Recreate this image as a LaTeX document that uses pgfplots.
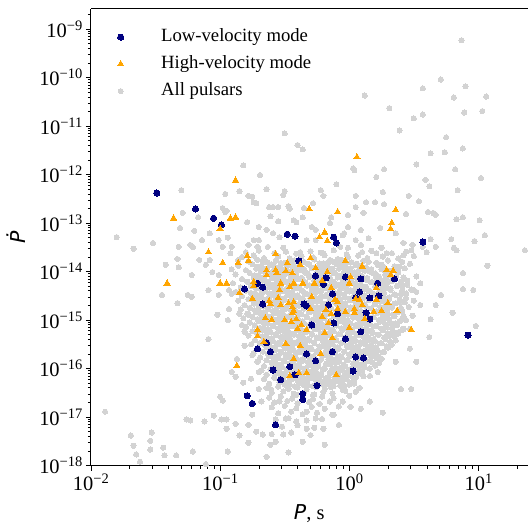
\documentclass[border=0pt]{standalone}
\usepackage{fontspec}
\setmainfont{Liberation Serif}
\newfontfamily\djv{DejaVu Sans}
\usepackage{pgfplots}
\usepackage{pgfplotstable}
\pgfplotsset{compat=1.18}
\definecolor{lowc}{RGB}{0,0,128}
\definecolor{highc}{RGB}{255,165,0}
\definecolor{allc}{RGB}{211,211,211}
\newcommand\sps[1]{\raisebox{7pt}{\fontsize{14.5}{14.5}\selectfont #1}}

% log10(P [s])  log10(Pdot)
\pgfplotstableread[row sep=\\]{
lx ly\\
-1.49 -12.38\\ -1.19 -12.71\\ -1.05 -12.90\\ -0.99 -13.04\\ -0.48 -13.23\\ -0.42 -13.27\\ -0.12 -13.29\\ -0.10 -13.41\\
0.57 -13.39\\ -0.39 -13.78\\ -0.71 -14.24\\ -0.81 -14.36\\ -0.67 -14.32\\ -0.67 -14.67\\ -0.26 -14.09\\ -0.18 -14.13\\
-0.03 -14.11\\ 0.09 -14.15\\ 0.22 -14.24\\ 0.35 -14.15\\ -0.20 -14.26\\ -0.13 -14.46\\ 0.08 -14.42\\ 0.23 -14.50\\
-0.35 -14.67\\ -0.33 -14.71\\ -0.16 -14.69\\ 0.05 -14.54\\ 0.16 -14.54\\ -0.09 -14.87\\ 0.13 -14.85\\ 0.16 -14.98\\
-0.29 -15.10\\ -0.12 -15.06\\ 0.09 -15.24\\ -0.03 -15.39\\ -0.64 -15.47\\ -0.71 -15.59\\ -0.61 -15.65\\ -0.33 -15.70\\
-0.13 -15.65\\ 0.05 -15.76\\ 0.11 -15.78\\ -0.26 -15.84\\ -0.46 -15.96\\ -0.59 -16.03\\ -0.42 -16.13\\ 0.03 -16.05\\
-0.53 -16.23\\ -0.25 -16.35\\ -0.36 -16.52\\ -0.36 -16.64\\ -0.79 -16.56\\ -0.75 -16.72\\ -0.57 -17.16\\ 0.92 -15.31\\
}\lowtab

\pgfplotstableread[row sep=\\]{
lx ly\\
-0.88 -12.12\\ -1.36 -12.90\\ -0.92 -12.90\\ -0.88 -12.88\\ -1.00 -13.12\\ -1.09 -13.60\\ -0.79 -13.68\\ 0.06 -11.64\\
-0.31 -12.71\\ -0.09 -12.77\\ 0.36 -12.73\\ 0.33 -13.00\\ 0.32 -13.12\\ -0.19 -13.19\\ -0.23 -13.29\\ -0.17 -13.37\\
-0.57 -13.64\\ -0.30 -13.72\\ -0.03 -13.78\\ -0.78 -13.78\\ -0.98 -13.82\\ -0.86 -13.82\\ -0.48 -13.82\\ -0.64 -13.97\\
-0.57 -13.97\\ -0.56 -14.03\\ -0.49 -13.99\\ -0.44 -14.03\\ -0.64 -14.07\\ -1.00 -14.24\\ -0.95 -14.24\\ -0.74 -14.21\\
-0.53 -14.24\\ -0.43 -14.24\\ 0.10 -13.89\\ -0.38 -13.86\\ -0.26 -13.93\\ -0.17 -14.01\\ 0.00 -14.24\\ 0.29 -13.97\\
0.34 -13.99\\ 0.32 -14.07\\ -0.21 -14.19\\ -0.36 -14.24\\ -1.41 -14.24\\ -0.74 -14.30\\ -0.46 -14.32\\ -0.85 -14.44\\
-0.75 -14.56\\ -0.54 -14.38\\ -0.55 -14.54\\ -0.47 -14.65\\ -0.61 -14.67\\ -0.65 -14.96\\ -0.60 -15.00\\ -0.50 -15.00\\
-0.44 -14.85\\ -0.71 -15.20\\ -0.71 -15.33\\ -0.66 -15.45\\ -0.49 -15.49\\ -0.87 -15.94\\ -0.46 -16.15\\ -0.43 -15.80\\
0.21 -14.34\\ -0.29 -14.52\\ -0.43 -14.63\\ -0.44 -14.73\\ -0.41 -14.98\\ -0.40 -15.18\\ -0.30 -14.77\\ -0.21 -14.93\\
-0.18 -14.79\\ -0.09 -14.77\\ -0.03 -14.83\\ 0.04 -14.85\\ 0.08 -14.58\\ 0.10 -14.69\\ 0.19 -14.83\\ 0.25 -14.81\\
0.30 -14.65\\ 0.37 -14.81\\ 0.48 -15.20\\ -0.16 -15.06\\ 0.00 -15.16\\ 0.12 -14.98\\ -0.37 -15.10\\ -0.38 -15.53\\
-0.13 -15.37\\ -0.09 -14.63\\ -0.14 -14.34\\ -0.11 -14.58\\ 0.05 -14.56\\ 0.21 -14.58\\ -0.33 -15.20\\ -0.10 -16.13\\
0.01 -14.11\\ -0.19 -15.26\\ -0.27 -14.24\\ -0.62 -14.61\\ -0.53 -14.69\\ -0.14 -14.87\\ 0.04 -14.77\\ -0.43 -14.81\\
-0.45 -15.04\\ -0.22 -15.70\\ -0.39 -16.09\\ -0.33 -16.09\\
}\hightab

\pgfplotstableread[row sep=\\]{
lx ly\\
0.87 -9.23\\ 0.71 -10.04\\ 0.57 -10.22\\ 0.90 -10.18\\ 0.81 -10.41\\ 1.06 -10.39\\ 0.12 -10.37\\ 0.31 -10.63\\
0.50 -10.84\\ 0.57 -10.76\\ 0.89 -10.72\\ 1.03 -10.69\\ 0.39 -11.09\\ -0.50 -11.15\\ 0.75 -11.23\\ -0.40 -11.39\\
-0.36 -11.48\\ 0.88 -11.46\\ 0.63 -11.56\\ 0.74 -11.54\\ 0.52 -11.79\\ 0.03 -11.87\\ 0.04 -11.91\\ 0.27 -11.89\\
0.82 -11.89\\ 1.02 -12.07\\ 0.21 -12.05\\ 0.59 -12.11\\ 0.62 -12.24\\ -0.10 -12.20\\ -0.64 -12.30\\ -0.50 -12.34\\
-0.51 -12.42\\ -0.22 -12.32\\ -0.20 -12.44\\ 0.05 -12.44\\ 0.26 -12.36\\ 0.46 -12.44\\ 0.84 -12.32\\ 0.54 -12.55\\
0.13 -12.57\\ 0.20 -12.57\\ 0.27 -12.61\\ -0.28 -12.59\\ -0.62 -12.67\\ -0.59 -12.67\\ -0.55 -12.67\\ 0.05 -12.67\\
-0.35 -12.69\\ -0.01 -12.83\\ 0.11 -12.79\\ 0.44 -12.81\\ 0.61 -12.77\\ 0.65 -12.79\\ 0.67 -12.83\\ 0.88 -12.88\\
0.83 -12.92\\ 1.01 -12.94\\ 1.05 -13.25\\ 0.79 -13.33\\ 0.97 -13.37\\ 0.63 -13.33\\ 0.49 -13.45\\ 0.57 -13.49\\
0.67 -13.49\\ 0.81 -13.51\\ 0.83 -13.56\\ 0.48 -13.56\\ 0.60 -13.60\\ 1.36 -13.56\\ 0.09 -13.45\\ -0.01 -13.08\\
0.09 -13.14\\ -0.05 -13.25\\ 0.24 -13.10\\ 0.15 -13.31\\ 0.05 -13.35\\ -0.01 -13.51\\ 0.36 -13.21\\ 0.42 -13.41\\
0.29 -13.62\\ 0.25 -13.51\\ 0.21 -13.62\\ 0.42 -13.66\\ -0.61 -12.86\\ -0.55 -12.96\\ -0.43 -12.94\\ -0.41 -12.98\\
-0.36 -12.88\\ -0.29 -13.08\\ -0.26 -13.14\\ -0.15 -13.00\\ -0.14 -12.88\\ -0.04 -13.21\\ -0.64 -13.14\\ -0.59 -13.21\\
-0.54 -13.29\\ -0.33 -13.35\\ -0.26 -13.35\\ -0.20 -13.62\\ -0.07 -13.49\\ -0.63 -13.49\\ -0.51 -13.51\\ -0.38 -13.60\\
-0.45 -13.76\\ -0.15 -13.76\\ -0.05 -13.82\\
-0.82 -11.81\\ -1.30 -12.32\\ -1.80 -13.29\\ -1.67 -13.53\\ -1.52 -13.41\\ -1.29 -12.79\\ -1.17 -12.88\\ -1.31 -13.10\\
-1.20 -13.16\\ -1.32 -13.49\\ -1.21 -13.49\\ -1.14 -13.35\\ -0.96 -12.40\\ -0.95 -12.75\\ -1.01 -13.35\\ -0.94 -13.30\\
-0.98 -13.49\\ -0.91 -13.49\\ -1.08 -13.21\\ -1.08 -13.76\\ -0.92 -13.62\\ -0.86 -13.76\\ -0.75 -12.46\\ -0.72 -12.59\\
-0.74 -13.35\\ -0.78 -13.45\\ -0.70 -13.35\\ -0.79 -12.98\\ -0.70 -13.08\\ -0.71 -13.49\\ -1.33 -13.74\\ -1.16 -13.76\\
-1.23 -13.45\\ -0.69 -12.01\\ -0.85 -12.34\\ -0.78 -12.44\\ -0.74 -12.57\\ -0.47 -12.65\\ -0.46 -12.70\\ -0.98 -12.69\\
-0.96 -12.77\\
-1.89 -16.89\\ -1.69 -17.38\\ -1.67 -17.59\\ -1.65 -17.77\\ -1.62 -17.92\\ -1.54 -17.67\\ -1.54 -17.49\\ -1.53 -17.32\\
-1.44 -17.63\\ -1.43 -17.79\\ -1.34 -17.79\\ -1.26 -17.05\\ -1.23 -17.07\\ -1.21 -17.71\\ -1.12 -17.09\\ -1.11 -17.97\\
-1.05 -16.97\\ -1.00 -16.58\\ -0.98 -16.66\\ -0.95 -17.05\\ -0.95 -17.24\\ -0.94 -17.71\\ -0.88 -17.14\\ -0.85 -17.38\\
-0.78 -17.16\\ -0.78 -17.53\\ -0.72 -17.30\\ -0.67 -17.36\\
-1.45 -14.48\\ -1.33 -14.65\\ -1.25 -14.48\\ -1.22 -14.52\\ -1.09 -14.38\\ -1.02 -14.89\\ -1.09 -15.39\\ -1.01 -14.48\\
-0.93 -14.38\\ -0.93 -14.77\\ -0.91 -14.46\\ -0.94 -15.00\\ -0.85 -14.87\\ -0.83 -15.10\\ -0.81 -15.24\\ -0.78 -14.89\\
-0.81 -15.53\\ -0.75 -15.72\\ -0.76 -16.21\\ -0.70 -16.07\\ -0.91 -16.07\\ -0.88 -16.17\\ -0.70 -16.42\\ -0.68 -16.68\\
-0.75 -16.95\\ -0.91 -13.95\\ -1.06 -14.01\\ -1.22 -14.07\\ -1.42 -13.86\\ -1.11 -13.86\\ -1.01 -14.07\\ -1.32 -13.91\\
-0.87 -15.80\\ -0.82 -16.29\\ -0.99 -17.05\\
1.07 -13.88\\ 0.88 -14.03\\ 0.96 -14.38\\ 0.80 -14.85\\ 0.98 -15.12\\ 0.62 -15.35\\ 0.52 -15.86\\ 0.40 -16.42\\
0.48 -16.42\\ 0.26 -16.91\\ 0.09 -16.83\\ 0.01 -16.79\\ -0.08 -17.16\\ -0.19 -17.57\\ -0.33 -17.24\\ -0.47 -17.73\\
-0.61 -17.57\\ -0.57 -17.51\\ -0.64 -17.82\\ -0.41 -17.09\\ -0.26 -17.03\\ -0.12 -16.95\\ 0.16 -16.68\\ -0.05 -16.68\\
0.05 -16.48\\ 0.22 -16.07\\ 0.36 -15.86\\ 0.47 -15.59\\ 0.63 -14.98\\ 0.67 -14.69\\ 0.71 -14.48\\ 0.88 -14.36\\
0.55 -14.69\\ 0.50 -14.38\\ 0.42 -15.18\\ 0.32 -15.51\\ 0.21 -15.65\\ 0.13 -15.86\\ -0.02 -16.07\\ -0.15 -16.27\\
-0.28 -16.54\\ -0.41 -16.54\\ -0.54 -16.68\\ -0.61 -16.42\\ -0.49 -17.03\\ -0.33 -16.89\\ -0.20 -17.24\\ -0.51 -17.36\\
-0.36 -17.51\\
-0.80 -13.60\\ -0.70 -13.57\\ -0.58 -13.62\\ -0.49 -13.59\\ -0.41 -13.63\\ -0.30 -13.58\\ -0.22 -13.61\\ -0.12 -13.56\\ -0.02 -13.64\\ 0.10 -13.60\\ 0.17 -13.57\\ 0.33 -13.62\\ 0.44 -13.59\\
-0.83 -13.70\\ -0.74 -13.67\\ -0.66 -13.72\\ -0.55 -13.69\\ -0.46 -13.73\\ -0.37 -13.68\\ -0.28 -13.71\\ -0.19 -13.66\\ -0.09 -13.74\\ -0.01 -13.70\\ 0.07 -13.67\\ 0.14 -13.72\\ 0.26 -13.69\\ 0.38 -13.73\\ 0.50 -13.68\\
-0.78 -13.79\\ -0.71 -13.76\\ -0.63 -13.81\\ -0.57 -13.78\\ -0.50 -13.82\\ -0.42 -13.77\\ -0.35 -13.80\\ -0.27 -13.75\\ -0.20 -13.83\\ -0.13 -13.79\\ -0.06 -13.76\\ 0.02 -13.81\\ 0.11 -13.78\\ 0.21 -13.82\\ 0.30 -13.77\\ 0.41 -13.80\\
-0.86 -13.88\\ -0.75 -13.85\\ -0.68 -13.90\\ -0.61 -13.87\\ -0.53 -13.91\\ -0.47 -13.86\\ -0.39 -13.89\\ -0.32 -13.84\\ -0.24 -13.92\\ -0.17 -13.88\\ -0.10 -13.85\\ -0.03 -13.90\\ 0.05 -13.87\\ 0.13 -13.91\\ 0.22 -13.86\\ 0.35 -13.89\\ 0.47 -13.84\\
-0.80 -13.97\\ -0.72 -13.94\\ -0.65 -13.99\\ -0.58 -13.96\\ -0.52 -14.00\\ -0.44 -13.95\\ -0.36 -13.98\\ -0.29 -13.93\\ -0.22 -14.01\\ -0.15 -13.97\\ -0.08 -13.94\\ 0.00 -13.99\\ 0.08 -13.96\\ 0.16 -14.00\\ 0.25 -13.95\\ 0.31 -13.98\\ 0.43 -13.93\\
-0.88 -14.06\\ -0.77 -14.03\\ -0.70 -14.08\\ -0.62 -14.05\\ -0.55 -14.09\\ -0.49 -14.04\\ -0.41 -14.07\\ -0.34 -14.02\\ -0.27 -14.10\\ -0.19 -14.06\\ -0.12 -14.03\\ -0.05 -14.08\\ 0.03 -14.05\\ 0.10 -14.09\\ 0.19 -14.04\\ 0.28 -14.07\\ 0.38 -14.02\\ 0.52 -14.10\\
-0.83 -14.15\\ -0.74 -14.12\\ -0.67 -14.17\\ -0.60 -14.14\\ -0.53 -14.18\\ -0.45 -14.13\\ -0.38 -14.16\\ -0.31 -14.11\\ -0.24 -14.19\\ -0.16 -14.15\\ -0.09 -14.12\\ -0.02 -14.17\\ 0.06 -14.14\\ 0.14 -14.18\\ 0.21 -14.13\\ 0.29 -14.16\\ 0.36 -14.11\\ 0.45 -14.19\\
-0.90 -14.24\\ -0.79 -14.21\\ -0.71 -14.26\\ -0.64 -14.23\\ -0.57 -14.27\\ -0.50 -14.22\\ -0.43 -14.25\\ -0.35 -14.20\\ -0.28 -14.28\\ -0.21 -14.24\\ -0.14 -14.21\\ -0.06 -14.26\\ 0.01 -14.23\\ 0.09 -14.27\\ 0.17 -14.22\\ 0.25 -14.25\\ 0.33 -14.20\\ 0.41 -14.28\\ 0.55 -14.24\\
-0.84 -14.33\\ -0.76 -14.30\\ -0.69 -14.35\\ -0.62 -14.32\\ -0.54 -14.36\\ -0.47 -14.31\\ -0.40 -14.34\\ -0.33 -14.29\\ -0.25 -14.37\\ -0.18 -14.33\\ -0.11 -14.30\\ -0.03 -14.35\\ 0.05 -14.32\\ 0.12 -14.36\\ 0.20 -14.31\\ 0.28 -14.34\\ 0.37 -14.29\\ 0.48 -14.37\\
-0.88 -14.42\\ -0.80 -14.39\\ -0.73 -14.44\\ -0.66 -14.41\\ -0.59 -14.45\\ -0.51 -14.40\\ -0.44 -14.43\\ -0.37 -14.38\\ -0.30 -14.46\\ -0.22 -14.42\\ -0.15 -14.39\\ -0.08 -14.44\\ 0.00 -14.41\\ 0.08 -14.45\\ 0.15 -14.40\\ 0.23 -14.43\\ 0.32 -14.38\\ 0.40 -14.46\\ 0.52 -14.42\\
-0.83 -14.51\\ -0.75 -14.48\\ -0.68 -14.53\\ -0.61 -14.50\\ -0.55 -14.54\\ -0.48 -14.49\\ -0.41 -14.52\\ -0.34 -14.47\\ -0.26 -14.55\\ -0.19 -14.51\\ -0.12 -14.48\\ -0.04 -14.53\\ 0.04 -14.50\\ 0.11 -14.54\\ 0.19 -14.49\\ 0.27 -14.52\\ 0.35 -14.47\\ 0.44 -14.55\\
-0.86 -14.60\\ -0.78 -14.57\\ -0.71 -14.62\\ -0.64 -14.59\\ -0.57 -14.63\\ -0.50 -14.58\\ -0.43 -14.61\\ -0.36 -14.56\\ -0.29 -14.64\\ -0.23 -14.60\\ -0.15 -14.57\\ -0.07 -14.62\\ 0.01 -14.59\\ 0.08 -14.63\\ 0.16 -14.58\\ 0.24 -14.61\\ 0.31 -14.56\\ 0.39 -14.64\\ 0.50 -14.60\\
-0.81 -14.69\\ -0.74 -14.66\\ -0.67 -14.71\\ -0.60 -14.68\\ -0.53 -14.72\\ -0.46 -14.67\\ -0.39 -14.70\\ -0.32 -14.65\\ -0.25 -14.73\\ -0.18 -14.69\\ -0.10 -14.66\\ -0.03 -14.71\\ 0.05 -14.68\\ 0.13 -14.72\\ 0.20 -14.67\\ 0.28 -14.70\\ 0.36 -14.65\\ 0.46 -14.73\\
-0.84 -14.78\\ -0.77 -14.75\\ -0.70 -14.80\\ -0.63 -14.77\\ -0.56 -14.81\\ -0.49 -14.76\\ -0.42 -14.79\\ -0.35 -14.74\\ -0.28 -14.82\\ -0.21 -14.78\\ -0.14 -14.75\\ -0.06 -14.80\\ 0.02 -14.77\\ 0.09 -14.81\\ 0.17 -14.76\\ 0.25 -14.79\\ 0.33 -14.74\\ 0.41 -14.82\\
-0.79 -14.87\\ -0.72 -14.84\\ -0.65 -14.89\\ -0.58 -14.86\\ -0.51 -14.90\\ -0.44 -14.85\\ -0.37 -14.88\\ -0.30 -14.83\\ -0.23 -14.91\\ -0.16 -14.87\\ -0.09 -14.84\\ -0.01 -14.89\\ 0.06 -14.86\\ 0.14 -14.90\\ 0.22 -14.85\\ 0.30 -14.88\\ 0.38 -14.83\\ 0.49 -14.91\\
-0.82 -14.96\\ -0.75 -14.93\\ -0.68 -14.98\\ -0.61 -14.95\\ -0.54 -14.99\\ -0.47 -14.94\\ -0.40 -14.97\\ -0.33 -14.92\\ -0.26 -15.00\\ -0.19 -14.96\\ -0.12 -14.93\\ -0.04 -14.98\\ 0.03 -14.95\\ 0.11 -14.99\\ 0.19 -14.94\\ 0.27 -14.97\\ 0.35 -14.92\\ 0.44 -15.00\\
-0.77 -15.05\\ -0.70 -15.02\\ -0.63 -15.07\\ -0.56 -15.04\\ -0.49 -15.08\\ -0.42 -15.03\\ -0.35 -15.06\\ -0.28 -15.01\\ -0.21 -15.09\\ -0.14 -15.05\\ -0.07 -15.02\\ 0.01 -15.07\\ 0.08 -15.04\\ 0.16 -15.08\\ 0.24 -15.03\\ 0.32 -15.06\\ 0.40 -15.01\\
-0.80 -15.14\\ -0.73 -15.11\\ -0.66 -15.16\\ -0.59 -15.13\\ -0.52 -15.17\\ -0.45 -15.12\\ -0.38 -15.15\\ -0.31 -15.10\\ -0.24 -15.18\\ -0.17 -15.14\\ -0.10 -15.11\\ -0.02 -15.16\\ 0.05 -15.13\\ 0.13 -15.17\\ 0.21 -15.12\\ 0.29 -15.15\\ 0.37 -15.10\\ 0.47 -15.18\\
-0.75 -15.23\\ -0.68 -15.20\\ -0.61 -15.25\\ -0.54 -15.22\\ -0.47 -15.26\\ -0.40 -15.21\\ -0.33 -15.24\\ -0.26 -15.19\\ -0.19 -15.27\\ -0.12 -15.23\\ -0.05 -15.20\\ 0.03 -15.25\\ 0.10 -15.22\\ 0.18 -15.26\\ 0.26 -15.21\\ 0.34 -15.24\\ 0.42 -15.19\\
-0.78 -15.32\\ -0.71 -15.29\\ -0.64 -15.34\\ -0.57 -15.31\\ -0.50 -15.35\\ -0.43 -15.30\\ -0.36 -15.33\\ -0.29 -15.28\\ -0.22 -15.36\\ -0.15 -15.32\\ -0.07 -15.29\\ 0.00 -15.34\\ 0.07 -15.31\\ 0.15 -15.35\\ 0.23 -15.30\\ 0.31 -15.33\\ 0.38 -15.28\\
-0.73 -15.41\\ -0.66 -15.38\\ -0.59 -15.43\\ -0.52 -15.40\\ -0.45 -15.44\\ -0.38 -15.39\\ -0.31 -15.42\\ -0.24 -15.37\\ -0.17 -15.45\\ -0.10 -15.41\\ -0.03 -15.38\\ 0.05 -15.43\\ 0.12 -15.40\\ 0.20 -15.44\\ 0.28 -15.39\\ 0.36 -15.42\\
-0.76 -15.50\\ -0.69 -15.47\\ -0.62 -15.52\\ -0.55 -15.49\\ -0.48 -15.53\\ -0.41 -15.48\\ -0.34 -15.51\\ -0.27 -15.46\\ -0.20 -15.54\\ -0.13 -15.50\\ -0.06 -15.47\\ 0.02 -15.52\\ 0.09 -15.49\\ 0.17 -15.53\\ 0.25 -15.48\\ 0.33 -15.51\\
-0.71 -15.59\\ -0.64 -15.56\\ -0.57 -15.61\\ -0.50 -15.58\\ -0.43 -15.62\\ -0.36 -15.57\\ -0.29 -15.60\\ -0.22 -15.55\\ -0.15 -15.63\\ -0.08 -15.59\\ -0.01 -15.56\\ 0.07 -15.61\\ 0.14 -15.58\\ 0.22 -15.62\\ 0.30 -15.57\\
-0.74 -15.68\\ -0.67 -15.65\\ -0.60 -15.70\\ -0.53 -15.67\\ -0.46 -15.71\\ -0.39 -15.66\\ -0.32 -15.69\\ -0.25 -15.64\\ -0.18 -15.72\\ -0.11 -15.68\\ -0.04 -15.65\\ 0.04 -15.70\\ 0.11 -15.67\\ 0.19 -15.71\\ 0.27 -15.66\\
-0.69 -15.77\\ -0.62 -15.74\\ -0.55 -15.79\\ -0.48 -15.76\\ -0.41 -15.80\\ -0.34 -15.75\\ -0.27 -15.78\\ -0.20 -15.73\\ -0.13 -15.81\\ -0.06 -15.77\\ 0.01 -15.74\\ 0.09 -15.79\\ 0.17 -15.76\\ 0.25 -15.80\\
-0.71 -15.86\\ -0.64 -15.83\\ -0.57 -15.88\\ -0.50 -15.85\\ -0.43 -15.89\\ -0.36 -15.84\\ -0.29 -15.87\\ -0.22 -15.82\\ -0.15 -15.90\\ -0.08 -15.86\\ -0.01 -15.83\\ 0.06 -15.88\\ 0.14 -15.85\\ 0.23 -15.89\\
-0.66 -15.95\\ -0.59 -15.92\\ -0.52 -15.97\\ -0.45 -15.94\\ -0.38 -15.98\\ -0.31 -15.93\\ -0.24 -15.96\\ -0.17 -15.91\\ -0.10 -15.99\\ -0.03 -15.95\\ 0.04 -15.92\\ 0.12 -15.97\\ 0.20 -15.94\\
-0.68 -16.04\\ -0.61 -16.01\\ -0.54 -16.06\\ -0.47 -16.03\\ -0.40 -16.07\\ -0.33 -16.02\\ -0.26 -16.05\\ -0.19 -16.00\\ -0.12 -16.08\\ -0.05 -16.04\\ 0.02 -16.01\\ 0.10 -16.06\\
-0.64 -16.13\\ -0.57 -16.10\\ -0.50 -16.15\\ -0.43 -16.12\\ -0.36 -16.16\\ -0.29 -16.11\\ -0.22 -16.14\\ -0.15 -16.09\\ -0.08 -16.17\\ -0.01 -16.13\\ 0.07 -16.10\\ 0.16 -16.15\\
-0.66 -16.22\\ -0.58 -16.19\\ -0.51 -16.24\\ -0.44 -16.21\\ -0.37 -16.25\\ -0.30 -16.20\\ -0.23 -16.23\\ -0.16 -16.18\\ -0.09 -16.26\\ -0.02 -16.22\\ 0.05 -16.19\\
-0.62 -16.31\\ -0.54 -16.28\\ -0.46 -16.33\\ -0.39 -16.30\\ -0.32 -16.34\\ -0.25 -16.29\\ -0.18 -16.32\\ -0.11 -16.27\\ -0.04 -16.35\\ 0.04 -16.31\\
-0.64 -16.40\\ -0.55 -16.37\\ -0.47 -16.42\\ -0.40 -16.39\\ -0.33 -16.43\\ -0.26 -16.38\\ -0.19 -16.41\\ -0.12 -16.36\\ -0.05 -16.44\\ 0.08 -16.40\\
-0.60 -16.50\\ -0.51 -16.47\\ -0.43 -16.52\\ -0.35 -16.49\\ -0.27 -16.53\\ -0.20 -16.48\\ -0.13 -16.51\\ -0.03 -16.46\\
-0.62 -16.60\\ -0.53 -16.57\\ -0.44 -16.62\\ -0.36 -16.59\\ -0.28 -16.63\\ -0.21 -16.58\\ -0.12 -16.61\\ 0.00 -16.56\\
-0.58 -16.70\\ -0.48 -16.67\\ -0.40 -16.72\\ -0.31 -16.69\\ -0.23 -16.73\\ -0.15 -16.68\\
-0.60 -16.80\\ -0.50 -16.77\\ -0.41 -16.82\\ -0.29 -16.79\\ -0.19 -16.83\\ -0.08 -16.78\\
-0.55 -16.92\\ -0.45 -16.89\\ -0.36 -16.94\\ -0.25 -16.91\\ -0.13 -16.95\\
-0.57 -17.05\\ -0.47 -17.02\\ -0.33 -17.07\\ -0.21 -17.04\\
-0.52 -17.20\\ -0.40 -17.17\\ -0.27 -17.22\\
-0.60 -17.35\\ -0.45 -17.32\\ -0.30 -17.37\\
-0.67 -13.81\\ -0.60 -13.85\\ -0.53 -13.82\\ -0.46 -13.84\\ -0.38 -13.80\\ -0.31 -13.86\\ -0.23 -13.83\\ -0.16 -13.81\\ -0.09 -13.85\\ -0.02 -13.82\\ 0.06 -13.84\\ 0.15 -13.80\\ 0.25 -13.86\\
-0.71 -13.90\\ -0.64 -13.94\\ -0.57 -13.91\\ -0.49 -13.93\\ -0.43 -13.89\\ -0.35 -13.95\\ -0.28 -13.92\\ -0.20 -13.90\\ -0.13 -13.94\\ -0.06 -13.91\\ 0.01 -13.93\\ 0.09 -13.89\\ 0.17 -13.95\\ 0.27 -13.92\\ 0.39 -13.90\\
-0.68 -13.99\\ -0.61 -14.03\\ -0.54 -14.00\\ -0.48 -14.02\\ -0.40 -13.98\\ -0.32 -14.04\\ -0.25 -14.01\\ -0.18 -13.99\\ -0.11 -14.03\\ -0.04 -14.00\\ 0.04 -14.02\\ 0.12 -13.98\\ 0.20 -14.04\\ 0.28 -14.01\\ 0.37 -13.99\\
-0.73 -14.08\\ -0.66 -14.12\\ -0.58 -14.09\\ -0.51 -14.11\\ -0.45 -14.07\\ -0.37 -14.13\\ -0.30 -14.10\\ -0.23 -14.08\\ -0.15 -14.12\\ -0.08 -14.09\\ -0.01 -14.11\\ 0.07 -14.07\\ 0.14 -14.13\\ 0.23 -14.10\\ 0.32 -14.08\\ 0.42 -14.12\\
-0.70 -14.17\\ -0.63 -14.21\\ -0.56 -14.18\\ -0.49 -14.20\\ -0.41 -14.16\\ -0.34 -14.22\\ -0.27 -14.19\\ -0.20 -14.17\\ -0.12 -14.21\\ -0.05 -14.18\\ 0.02 -14.20\\ 0.10 -14.16\\ 0.18 -14.22\\ 0.25 -14.19\\ 0.33 -14.17\\ 0.40 -14.21\\
-0.75 -14.26\\ -0.67 -14.30\\ -0.60 -14.27\\ -0.53 -14.29\\ -0.46 -14.25\\ -0.39 -14.31\\ -0.31 -14.28\\ -0.24 -14.26\\ -0.17 -14.30\\ -0.10 -14.27\\ -0.02 -14.29\\ 0.05 -14.25\\ 0.13 -14.31\\ 0.21 -14.28\\ 0.29 -14.26\\ 0.37 -14.30\\ 0.45 -14.27\\
-0.72 -14.35\\ -0.65 -14.39\\ -0.58 -14.36\\ -0.50 -14.38\\ -0.43 -14.34\\ -0.36 -14.40\\ -0.29 -14.37\\ -0.21 -14.35\\ -0.14 -14.39\\ -0.07 -14.36\\ 0.01 -14.38\\ 0.09 -14.34\\ 0.16 -14.40\\ 0.24 -14.37\\ 0.32 -14.35\\ 0.41 -14.39\\
-0.76 -14.44\\ -0.69 -14.48\\ -0.62 -14.45\\ -0.55 -14.47\\ -0.47 -14.43\\ -0.40 -14.49\\ -0.33 -14.46\\ -0.26 -14.44\\ -0.18 -14.48\\ -0.11 -14.45\\ -0.04 -14.47\\ 0.04 -14.43\\ 0.12 -14.49\\ 0.19 -14.46\\ 0.27 -14.44\\ 0.36 -14.48\\ 0.44 -14.45\\
-0.71 -14.53\\ -0.64 -14.57\\ -0.57 -14.54\\ -0.51 -14.56\\ -0.44 -14.52\\ -0.37 -14.58\\ -0.30 -14.55\\ -0.22 -14.53\\ -0.15 -14.57\\ -0.08 -14.54\\ 0.00 -14.56\\ 0.08 -14.52\\ 0.15 -14.58\\ 0.23 -14.55\\ 0.31 -14.53\\ 0.39 -14.57\\
-0.74 -14.62\\ -0.67 -14.66\\ -0.60 -14.63\\ -0.53 -14.65\\ -0.46 -14.61\\ -0.39 -14.67\\ -0.32 -14.64\\ -0.25 -14.62\\ -0.19 -14.66\\ -0.11 -14.63\\ -0.03 -14.65\\ 0.05 -14.61\\ 0.12 -14.67\\ 0.20 -14.64\\ 0.28 -14.62\\ 0.35 -14.66\\ 0.43 -14.63\\
-0.70 -14.71\\ -0.63 -14.75\\ -0.56 -14.72\\ -0.49 -14.74\\ -0.42 -14.70\\ -0.35 -14.76\\ -0.28 -14.73\\ -0.21 -14.71\\ -0.14 -14.75\\ -0.06 -14.72\\ 0.01 -14.74\\ 0.09 -14.70\\ 0.17 -14.76\\ 0.24 -14.73\\ 0.32 -14.71\\ 0.40 -14.75\\
-0.73 -14.80\\ -0.66 -14.84\\ -0.59 -14.81\\ -0.52 -14.83\\ -0.45 -14.79\\ -0.38 -14.85\\ -0.31 -14.82\\ -0.24 -14.80\\ -0.17 -14.84\\ -0.10 -14.81\\ -0.02 -14.83\\ 0.06 -14.79\\ 0.13 -14.85\\ 0.21 -14.82\\ 0.29 -14.80\\ 0.37 -14.84\\
-0.68 -14.89\\ -0.61 -14.93\\ -0.54 -14.90\\ -0.47 -14.92\\ -0.40 -14.88\\ -0.33 -14.94\\ -0.26 -14.91\\ -0.19 -14.89\\ -0.12 -14.93\\ -0.05 -14.90\\ 0.03 -14.92\\ 0.10 -14.88\\ 0.18 -14.94\\ 0.26 -14.91\\ 0.34 -14.89\\ 0.42 -14.93\\
-0.71 -14.98\\ -0.64 -15.02\\ -0.57 -14.99\\ -0.50 -15.01\\ -0.43 -14.97\\ -0.36 -15.03\\ -0.29 -15.00\\ -0.22 -14.98\\ -0.15 -15.02\\ -0.08 -14.99\\ -0.01 -15.01\\ 0.07 -14.97\\ 0.15 -15.03\\ 0.23 -15.00\\ 0.31 -14.98\\ 0.39 -15.02\\
-0.66 -15.07\\ -0.59 -15.11\\ -0.52 -15.08\\ -0.45 -15.10\\ -0.38 -15.06\\ -0.31 -15.12\\ -0.24 -15.09\\ -0.17 -15.07\\ -0.10 -15.11\\ -0.03 -15.08\\ 0.05 -15.10\\ 0.12 -15.06\\ 0.20 -15.12\\ 0.28 -15.09\\ 0.36 -15.07\\
-0.69 -15.16\\ -0.62 -15.20\\ -0.55 -15.17\\ -0.48 -15.19\\ -0.41 -15.15\\ -0.34 -15.21\\ -0.27 -15.18\\ -0.20 -15.16\\ -0.13 -15.20\\ -0.06 -15.17\\ 0.02 -15.19\\ 0.09 -15.15\\ 0.17 -15.21\\ 0.25 -15.18\\ 0.33 -15.16\\ 0.41 -15.20\\
-0.64 -15.25\\ -0.57 -15.29\\ -0.50 -15.26\\ -0.43 -15.28\\ -0.36 -15.24\\ -0.29 -15.30\\ -0.22 -15.27\\ -0.15 -15.25\\ -0.08 -15.29\\ -0.01 -15.26\\ 0.07 -15.28\\ 0.14 -15.24\\ 0.22 -15.30\\ 0.30 -15.27\\ 0.38 -15.25\\
-0.67 -15.34\\ -0.60 -15.38\\ -0.53 -15.35\\ -0.46 -15.37\\ -0.39 -15.33\\ -0.32 -15.39\\ -0.25 -15.36\\ -0.18 -15.34\\ -0.11 -15.38\\ -0.03 -15.35\\ 0.04 -15.37\\ 0.11 -15.33\\ 0.19 -15.39\\ 0.27 -15.36\\ 0.35 -15.34\\
-0.62 -15.43\\ -0.55 -15.47\\ -0.48 -15.44\\ -0.41 -15.46\\ -0.34 -15.42\\ -0.27 -15.48\\ -0.20 -15.45\\ -0.13 -15.43\\ -0.06 -15.47\\ 0.01 -15.44\\ 0.09 -15.46\\ 0.16 -15.42\\ 0.24 -15.48\\ 0.32 -15.45\\
-0.65 -15.52\\ -0.58 -15.56\\ -0.51 -15.53\\ -0.44 -15.55\\ -0.37 -15.51\\ -0.30 -15.57\\ -0.23 -15.54\\ -0.16 -15.52\\ -0.09 -15.56\\ -0.02 -15.53\\ 0.06 -15.55\\ 0.13 -15.51\\ 0.21 -15.57\\ 0.29 -15.54\\
-0.60 -15.61\\ -0.53 -15.65\\ -0.46 -15.62\\ -0.39 -15.64\\ -0.32 -15.60\\ -0.25 -15.66\\ -0.18 -15.63\\ -0.11 -15.61\\ -0.04 -15.65\\ 0.03 -15.62\\ 0.11 -15.64\\ 0.18 -15.60\\ 0.26 -15.66\\
-0.63 -15.70\\ -0.56 -15.74\\ -0.49 -15.71\\ -0.42 -15.73\\ -0.35 -15.69\\ -0.28 -15.75\\ -0.21 -15.72\\ -0.14 -15.70\\ -0.07 -15.74\\ 0.00 -15.71\\ 0.08 -15.73\\ 0.15 -15.69\\ 0.23 -15.75\\
-0.58 -15.79\\ -0.51 -15.83\\ -0.44 -15.80\\ -0.37 -15.82\\ -0.30 -15.78\\ -0.23 -15.84\\ -0.16 -15.81\\ -0.09 -15.79\\ -0.02 -15.83\\ 0.05 -15.80\\ 0.13 -15.82\\ 0.21 -15.78\\
-0.60 -15.88\\ -0.53 -15.92\\ -0.46 -15.89\\ -0.39 -15.91\\ -0.32 -15.87\\ -0.25 -15.93\\ -0.18 -15.90\\ -0.11 -15.88\\ -0.04 -15.92\\ 0.03 -15.89\\ 0.10 -15.91\\ 0.18 -15.87\\
-0.55 -15.97\\ -0.48 -16.01\\ -0.41 -15.98\\ -0.34 -16.00\\ -0.27 -15.96\\ -0.20 -16.02\\ -0.13 -15.99\\ -0.06 -15.97\\ 0.01 -16.01\\ 0.08 -15.98\\ 0.16 -16.00\\
-0.57 -16.06\\ -0.50 -16.10\\ -0.43 -16.07\\ -0.36 -16.09\\ -0.29 -16.05\\ -0.22 -16.11\\ -0.15 -16.08\\ -0.08 -16.06\\ -0.01 -16.10\\ 0.06 -16.07\\
-0.53 -16.15\\ -0.46 -16.19\\ -0.39 -16.16\\ -0.32 -16.18\\ -0.25 -16.14\\ -0.18 -16.20\\ -0.11 -16.17\\ -0.04 -16.15\\ 0.03 -16.19\\ 0.11 -16.16\\
-0.54 -16.24\\ -0.47 -16.28\\ -0.40 -16.25\\ -0.33 -16.27\\ -0.26 -16.23\\ -0.19 -16.29\\ -0.12 -16.26\\ -0.05 -16.24\\ 0.02 -16.28\\
-0.50 -16.33\\ -0.42 -16.37\\ -0.35 -16.34\\ -0.28 -16.36\\ -0.21 -16.32\\ -0.14 -16.38\\ -0.07 -16.35\\ 0.00 -16.33\\
}\alltab

\begin{document}
\begin{tikzpicture}
\path (-91pt,-58pt) rectangle (437pt,466pt);
\begin{axis}[
  at={(0pt,0pt)}, anchor=south west,
  scale only axis, width=437pt, height=457pt,
  xmode=log, ymode=log,
  xmin=0.01, xmax=24, ymin=1e-18, ymax=2.6e-9,
  axis x line=box, axis y line=left,
  axis line style={-, black, line width=1pt},
  xtick pos=left, ytick pos=left, xticklabel pos=left, yticklabel pos=left,
  tick align=outside,
  major tick length=5pt, minor tick length=3pt,
  tick style={black, line width=0.8pt},
  xtick={0.01,0.1,1,10},
  xticklabels={10\sps{−2},10\sps{−1},10\sps{0},10\sps{1}},
  minor xtick={0.02,0.03,0.04,0.05,0.06,0.07,0.08,0.09,0.2,0.3,0.4,0.5,0.6,0.7,0.8,0.9,2,3,4,5,6,7,8,9,20},
  ytick={1e-18,1e-17,1e-16,1e-15,1e-14,1e-13,1e-12,1e-11,1e-10,1e-9},
  yticklabels={10\sps{−18},10\sps{−17},10\sps{−16},10\sps{−15},10\sps{−14},10\sps{−13},10\sps{−12},10\sps{−11},10\sps{−10},10\sps{−9}},
  minor ytick={2e-18,3e-18,4e-18,5e-18,6e-18,7e-18,8e-18,9e-18,
    2e-17,3e-17,4e-17,5e-17,6e-17,7e-17,8e-17,9e-17,
    2e-16,3e-16,4e-16,5e-16,6e-16,7e-16,8e-16,9e-16,
    2e-15,3e-15,4e-15,5e-15,6e-15,7e-15,8e-15,9e-15,
    2e-14,3e-14,4e-14,5e-14,6e-14,7e-14,8e-14,9e-14,
    2e-13,3e-13,4e-13,5e-13,6e-13,7e-13,8e-13,9e-13,
    2e-12,3e-12,4e-12,5e-12,6e-12,7e-12,8e-12,9e-12,
    2e-11,3e-11,4e-11,5e-11,6e-11,7e-11,8e-11,9e-11,
    2e-10,3e-10,4e-10,5e-10,6e-10,7e-10,8e-10,9e-10,2e-9},
  tick label style={font=\fontsize{20.5}{20.5}\selectfont},
  xlabel={{\djv\itshape P}, s},
  ylabel={{\djv\itshape Ṗ}},
  every axis x label/.style={at={(axis description cs:0.5,-0.1182)}, anchor=base, font=\fontsize{20.5}{20.5}\selectfont},
  every axis y label/.style={at={(axis description cs:-0.1487,0.5)}, rotate=90, anchor=base, font=\fontsize{20.5}{20.5}\selectfont},
  legend style={at={(axis description cs:0,1)}, anchor=north west,
    xshift=26.5pt, yshift=-19.4pt, draw=none, fill=none, inner sep=0pt,
    font=\fontsize{18.7}{18.7}\selectfont, row sep=9.8pt,
    nodes={inner sep=0pt, text height=13pt, text depth=4.2pt},
    /tikz/every odd column/.append style={column sep=37.4pt}},
  legend cell align=left,
]
\addlegendimage{only marks, mark=*, mark size=3.1pt, mark options={draw=lowc, fill=lowc, line width=0pt}}
\addlegendentry{Low-velocity mode}
\addlegendimage{only marks, mark=triangle*, mark size=3.6pt, mark options={draw=highc, fill=highc, line width=0pt}}
\addlegendentry{High-velocity mode}
\addlegendimage{only marks, mark=*, mark size=2.5pt, mark options={draw=allc, fill=allc, line width=0pt}}
\addlegendentry{All pulsars}

\addplot[forget plot, only marks, mark=*, mark size=2.6pt, mark options={draw=allc, fill=allc, line width=0pt}]
  table[x expr=10^(\thisrow{lx}), y expr=10^(\thisrow{ly})] {\alltab};
\addplot[forget plot, only marks, mark=*, mark size=3.1pt, mark options={draw=lowc, fill=lowc, line width=0pt}]
  table[x expr=10^(\thisrow{lx}), y expr=10^(\thisrow{ly})] {\lowtab};
\addplot[forget plot, only marks, mark=triangle*, mark size=3.6pt, mark options={draw=highc, fill=highc, line width=0pt}]
  table[x expr=10^(\thisrow{lx}), y expr=10^(\thisrow{ly})] {\hightab};
\end{axis}
\end{tikzpicture}
\end{document}
